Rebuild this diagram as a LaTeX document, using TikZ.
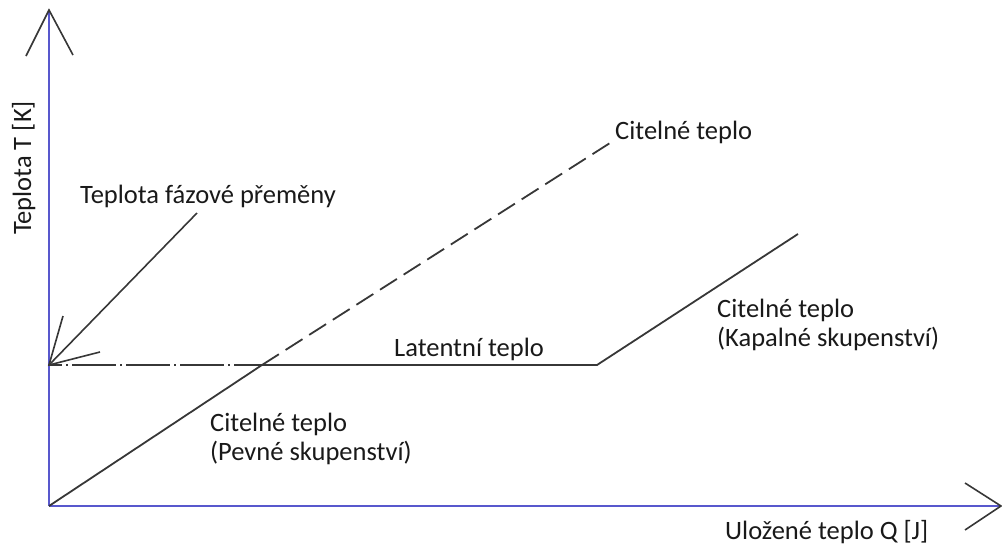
\documentclass[tikz,border=0pt]{standalone}
\usepackage{fontspec}
\setmainfont{Carlito}
\definecolor{axisblue}{RGB}{88,88,205}
\definecolor{linegray}{RGB}{55,55,55}
\definecolor{txt}{RGB}{25,25,25}
\begin{document}
\begin{tikzpicture}[x=1pt,y=-1pt,
  axis/.style={draw=axisblue,line width=1.8pt},
  arm/.style={draw=linegray,line width=1.6pt},
  curve/.style={draw=linegray,line width=1.8pt},
  lbl/.style={inner sep=0pt,anchor=base west,text=txt,font=\fontsize{26.5}{29}\selectfont,align=left}]
\useasboundingbox (0,0) rectangle (1002,546);
% key points
\coordinate (O) at (49,506);
\coordinate (Ytop) at (49,10);
\coordinate (Xend) at (1001,506);
\coordinate (P) at (49,365);
\coordinate (S) at (243,365);
\coordinate (X) at (262,365);
\coordinate (M) at (597,365);
\coordinate (L2) at (798,234);
\coordinate (D) at (610,143);
\coordinate (Ptr) at (197,213);
% axes
\draw[axis] (O) -- (Ytop);
\draw[axis] (O) -- (Xend);
\draw[arm] (26,56) -- (Ytop) -- (73,55);
\draw[arm] (965,483) -- (Xend) -- (965,530);
% curves
\draw[curve,dash pattern=on 44pt off 4pt on 2pt off 4pt,dash phase=31pt] (P) -- (S);
\draw[curve] (S) -- (M) -- (L2);
\draw[curve] (O) -- (X);
\draw[curve,dash pattern=on 20pt off 8pt] (X) -- (D);
% pointer
\draw[arm] (Ptr) -- (P);
\draw[arm] (63,316) -- (P) -- (100,352);
% labels
\node[lbl] (tfp) at (80,203) {Teplota fázové přeměny};
\node[lbl] (ct1) at (615,139) {Citelné teplo};
\node[lbl] (lat) at (394,356) {Latentní teplo};
\node[lbl] (ctk) at (717,346) {Citelné teplo\\(Kapalné skupenství)};
\node[lbl] (ctp) at (210,460) {Citelné teplo\\(Pevné skupenství)};
\node[lbl] (xl) at (725,539) {Uložené teplo Q [J]};
\node[inner sep=0pt,text=txt,font=\fontsize{26.5}{29}\selectfont,rotate=90,anchor=base] (yl) at (31,168) {Teplota T [K]};
\end{tikzpicture}
\end{document}
